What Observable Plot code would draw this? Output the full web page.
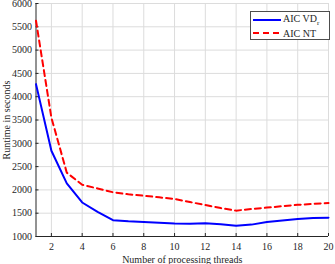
<!DOCTYPE html>
<html><head><meta charset="utf-8">
<script src="https://cdn.jsdelivr.net/npm/d3@7"></script>
<script src="https://cdn.jsdelivr.net/npm/@observablehq/plot@0.6"></script>
<style>
body{margin:0;background:#fff;}
#wrap{position:relative;width:335px;height:264px;font-family:"Liberation Serif",serif;}
#legend{position:absolute;left:250px;top:11px;width:80px;height:29px;border:1px solid #4d4d4d;background:#fff;box-sizing:border-box;font-size:10px;color:#262626;}
.row{position:absolute;left:2px;display:flex;align-items:center;height:12px;}
.row span{margin-left:2px;white-space:nowrap;}
</style></head>
<body><div id="wrap"><div id="legend">
<div class="row" style="top:2px"><svg width="28" height="6"><line x1="0" y1="3" x2="28" y2="3" stroke="#0000ff" stroke-width="2"/></svg><span>AIC VD<sub style="font-size:7px">r</sub></span></div>
<div class="row" style="top:15px"><svg width="28" height="6"><line x1="0" y1="3" x2="28" y2="3" stroke="#ff0000" stroke-width="2" stroke-dasharray="6,4"/></svg><span>AIC NT</span></div>
</div></div>
<script>
const threads = [1,2,3,4,5,6,7,8,9,10,11,12,13,14,15,16,17,18,19,20];
const vdr = [4270,2840,2140,1730,1530,1350,1325,1310,1295,1280,1275,1285,1265,1230,1255,1310,1345,1375,1395,1405];
const nt  = [5630,3550,2370,2110,2030,1950,1905,1875,1840,1805,1740,1675,1610,1555,1590,1620,1650,1680,1700,1720];
const xTicks = [2,4,6,8,10,12,14,16,18,20];
const yTicks = [1000,1500,2000,2500,3000,3500,4000,4500,5000,5500,6000];

const rows = threads.map((t,i)=>({t, vdr: vdr[i], nt: nt[i]}));
const ink = "#262626";
const chart = Plot.plot({
  width: 335, height: 264,
  marginLeft: 35.5, marginRight: 7, marginTop: 3, marginBottom: 28,
  style: {fontFamily: "Liberation Serif", fontSize: "10px", color: ink, background: "#fff", overflow: "visible"},
  x: {domain: [1,20]},
  y: {domain: [1000,6000]},
  marks: [
    Plot.gridX(xTicks, {stroke: "#dcdcdc", strokeOpacity: 1}),
    Plot.gridY(yTicks, {stroke: "#dcdcdc", strokeOpacity: 1}),
    Plot.axisX(xTicks, {tickSize: 0, tickPadding: 6, label: "Number of processing threads", labelAnchor: "center", labelArrow: "none", labelOffset: 26, fill: ink}),
    Plot.axisX(xTicks, {tickSize: -3, text: null, label: null, stroke: ink}),
    Plot.axisY(yTicks, {tickSize: 0, tickPadding: 4, tickFormat: d => String(d), label: "Runtime in seconds", labelAnchor: "center", labelArrow: "none", labelOffset: 33, fill: ink}),
    Plot.axisY(yTicks, {tickSize: -3, text: null, label: null, stroke: ink}),
    Plot.ruleX([1], {stroke: ink}),
    Plot.ruleY([1000], {stroke: ink}),
    Plot.lineY(rows, {x: "t", y: "vdr", stroke: "#0000ff", strokeWidth: 2}),
    Plot.lineY(rows, {x: "t", y: "nt", stroke: "#ff0000", strokeWidth: 2, strokeDasharray: "6,4"})
  ]
});
document.getElementById("wrap").prepend(chart);
chart.style.position = "absolute"; chart.style.left = "0"; chart.style.top = "0";
</script></body></html>
